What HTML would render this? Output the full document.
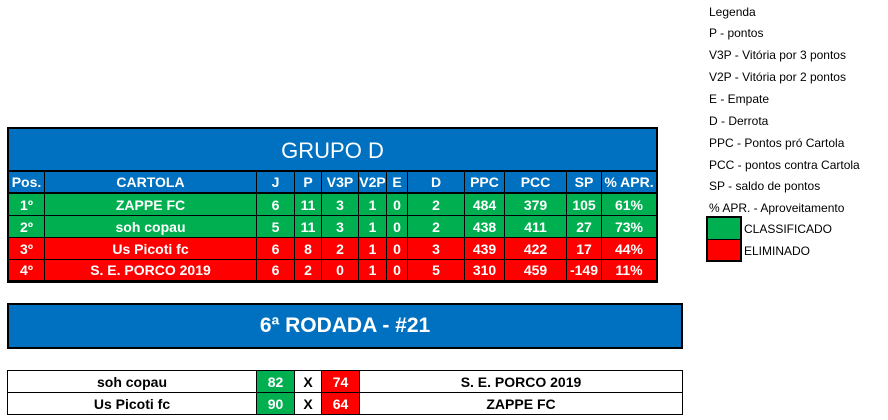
<!DOCTYPE html>
<html><head><meta charset="utf-8"><style>
body{margin:0;width:888px;height:420px;background:#fff;position:relative;overflow:hidden;font-family:"Liberation Sans",sans-serif}
.a{position:absolute;box-sizing:border-box}
.c{position:absolute;box-sizing:border-box;display:flex;align-items:center;justify-content:center;font-weight:bold;font-size:14px;color:#fff;border-right:1px solid #000;border-bottom:1px solid #000}
.lg{position:absolute;left:709px;font-size:12px;color:#000;line-height:14px}
</style></head><body>
<div class="a" style="left:7px;top:127px;width:651px;height:156px;border:2px solid #000;background:#0070c0"></div>
<div class="a" style="left:9px;top:129px;width:647px;height:43px;display:flex;align-items:center;justify-content:center;color:#fff;font-size:22px;padding-top:3px;border-bottom:2px solid #000">GRUPO D</div>
<div id="t"></div>
<div class="a" style="left:7px;top:303px;width:676px;height:46px;border:2px solid #000;background:#0070c0;display:flex;align-items:center;justify-content:center;color:#fff;font-size:21px;font-weight:bold">6ª RODADA - #21</div>
<div class="a" style="left:7px;top:370px;width:676px;height:45px;border:1px solid #000"></div>
<div id="m"></div>
<div class="lg" style="top:5px">Legenda</div>
<div class="lg" style="top:26px">P - pontos</div>
<div class="lg" style="top:48px">V3P - Vitória por 3 pontos</div>
<div class="lg" style="top:70px">V2P - Vitória por 2 pontos</div>
<div class="lg" style="top:92px">E - Empate</div>
<div class="lg" style="top:114px">D - Derrota</div>
<div class="lg" style="top:136px">PPC - Pontos pró Cartola</div>
<div class="lg" style="top:158px">PCC - pontos contra Cartola</div>
<div class="lg" style="top:179px">SP - saldo de pontos</div>
<div class="lg" style="top:201px">% APR. - Aproveitamento</div>
<div class="a" style="left:706px;top:216px;width:36px;height:46px;border:2px solid #000;background:#00b050"></div>
<div class="a" style="left:706px;top:239px;width:36px;height:23px;border:2px solid #000;border-top:1px solid #000;background:#ff0000"></div>
<div class="lg" style="left:744px;top:222px">CLASSIFICADO</div>
<div class="lg" style="left:744px;top:244px">ELIMINADO</div>
<script>
var cols=[9,45,257,295,322,359,387,408,465,505,567,602,656];
var head=["Pos.","CARTOLA","J","P","V3P","V2P","E","D","PPC","PCC","SP","% APR."];
var rows=[["1º","ZAPPE FC","6","11","3","1","0","2","484","379","105","61%"],
["2º","soh copau","5","11","3","1","0","2","438","411","27","73%"],
["3º","Us Picoti fc","6","8","2","1","0","3","439","422","17","44%"],
["4º","S. E. PORCO 2019","6","2","0","1","0","5","310","459","-149","11%"]];
var h="";
function row(vals,top,hgt,bg,bb){for(var i=0;i<12;i++){var w=cols[i+1]-cols[i];h+='<div class="c" style="left:'+cols[i]+'px;top:'+top+'px;width:'+w+'px;height:'+hgt+'px;background:'+bg+';'+(i==11?'border-right:none;':'')+(bb?'border-bottom:2px solid #000;':'')+'">'+vals[i]+'</div>';}}
row(head,172,22,"#0070c0",true);
var tops=[194,216,238,260];
for(var r=0;r<4;r++)row(rows[r],tops[r],r==3?21:22,r<2?"#00b050":"#ff0000",false);
document.getElementById("t").innerHTML=h;
var m="";var mc=[8,257,295,322,360,682];
var md=[["soh copau","82","X","74","S. E. PORCO 2019"],["Us Picoti fc","90","X","64","ZAPPE FC"]];
var bgs=["#fff","#00b050","#fff","#ff0000","#fff"];var fc=["#000","#fff","#000","#fff","#000"];
for(var r=0;r<2;r++)for(var i=0;i<5;i++){m+='<div class="c" style="left:'+mc[i]+'px;top:'+(371+r*22)+'px;width:'+(mc[i+1]-mc[i])+'px;height:'+(r?21:22)+'px;background:'+bgs[i]+';color:'+fc[i]+';'+(i==4?'border-right:none;':'')+(r?'border-bottom:none;':'')+'">'+md[r][i]+'</div>';}
document.getElementById("m").innerHTML=m;
</script>
</body></html>
